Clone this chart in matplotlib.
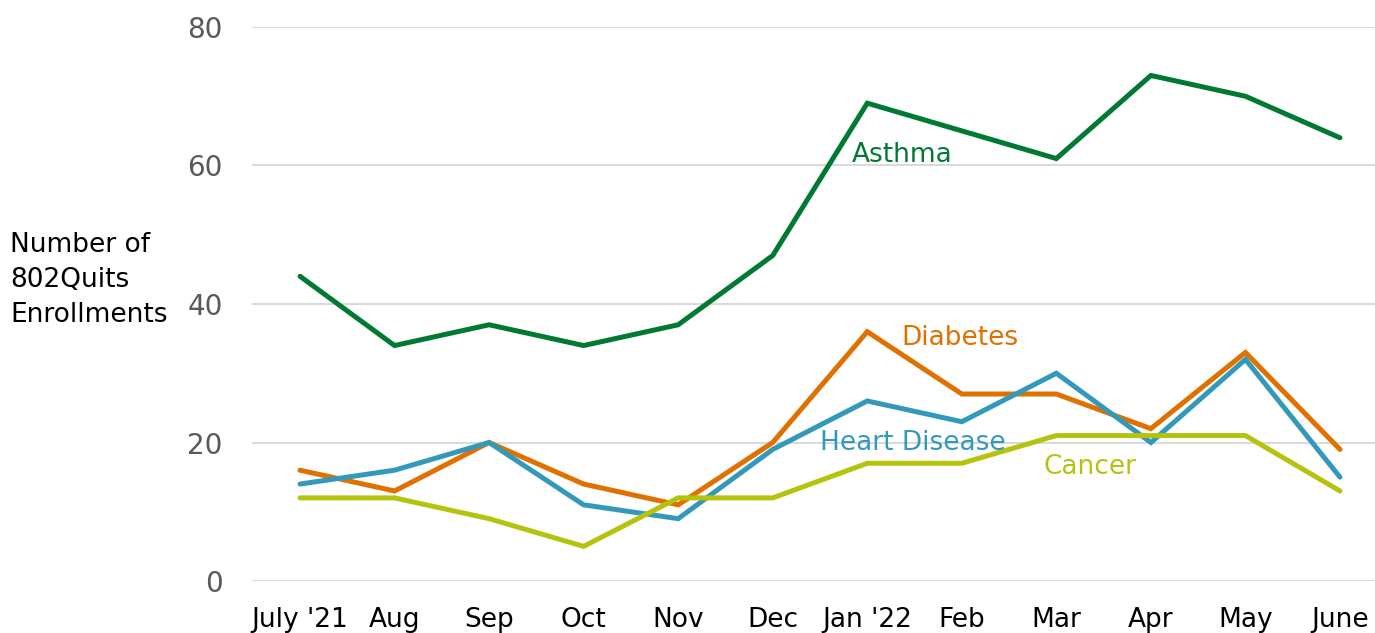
import matplotlib
matplotlib.use("Agg")
import matplotlib.pyplot as plt

months = ["July '21", "Aug", "Sep", "Oct", "Nov", "Dec", "Jan '22", "Feb", "Mar", "Apr", "May", "June"]
asthma = [44, 34, 37, 34, 37, 47, 69, 65, 61, 73, 70, 64]
diabetes = [16, 13, 20, 14, 11, 20, 36, 27, 27, 22, 33, 19]
heart = [14, 16, 20, 11, 9, 19, 26, 23, 30, 20, 32, 15]
cancer = [12, 12, 9, 5, 12, 12, 17, 17, 21, 21, 21, 13]
yticks = [0, 20, 40, 60, 80]

fig = plt.figure(figsize=(13.75, 6.33), dpi=100)
ax = fig.add_axes([252/1375, 1-581/633, 1-252/1375, (581-27)/633])

x = list(range(len(months)))
series = [
    ("Asthma", asthma, "#007A33", (6.37, 61.5)),
    ("Diabetes", diabetes, "#E07000", (6.98, 35.1)),
    ("Heart Disease", heart, "#3399BB", (6.48, 19.9)),
    ("Cancer", cancer, "#B5C30F", (8.36, 16.4)),
]
for name, vals, col, (lx, ly) in series:
    ax.plot(x, vals, color=col, lw=3.6, solid_joinstyle='miter', solid_capstyle='round', zorder=3)
for name, vals, col, (lx, ly) in series:
    ax.text(lx, ly, name, color=col, fontsize=19, ha='center', va='center', zorder=4)

ax.set_ylim(0, 80)
ax.set_xlim(-48/94.5, 11 + 35/94.5)
ax.set_yticks(yticks)
ax.set_yticklabels([str(v) for v in yticks], color="#595959", fontsize=20)
ax.set_xticks(x)
ax.set_xticklabels(months, fontsize=19, color='black')
ax.tick_params(axis='y', length=0, pad=21)
ax.tick_params(axis='x', length=0, pad=19)
ax.grid(axis='y', color='#D9D9D9', lw=1.4)
ax.set_axisbelow(True)
for s in ax.spines.values():
    s.set_visible(False)

fig.text(10/1375, 1-280/633, "Number of\n802Quits\nEnrollments", fontsize=19, ha='left', va='center', linespacing=1.45)

fig.savefig("out.png", dpi=100)
